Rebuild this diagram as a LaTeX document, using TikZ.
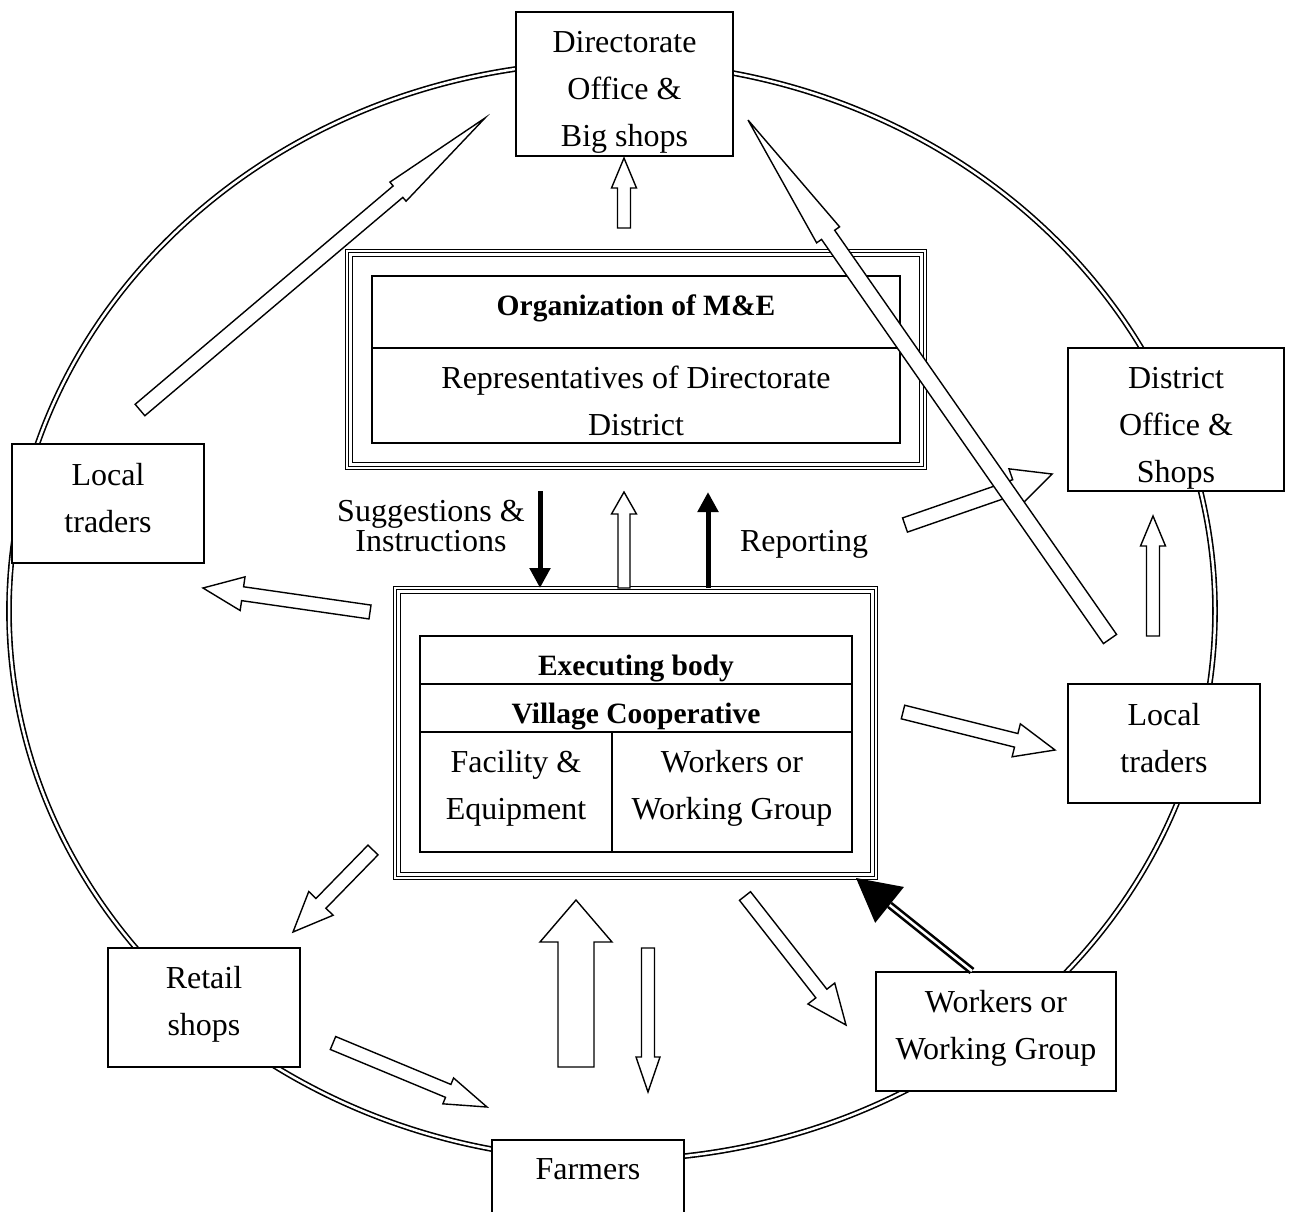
\documentclass[tikz,border=0pt]{standalone}
\usepackage{fontspec}
\setmainfont{Liberation Serif}
\usepackage{tikz}
\usetikzlibrary{arrows.meta,positioning,calc}
\newcommand{\bodyfont}{\fontsize{32}{47}\selectfont}
\newcommand{\headfont}{\fontsize{29.5}{40}\selectfont\bfseries}
\newcommand{\notefont}{\fontsize{32}{30}\selectfont}
% hollow block arrow: tail, tip, shaft half width, head half width, head length
\newcommand{\blockarrow}[5]{%
  \coordinate (ba-h) at ($(#2)!#5!(#1)$);
  \draw[hollow] ($(#1)!#3!90:(#2)$) -- ($(ba-h)!#3!90:(#2)$) -- ($(ba-h)!#4!90:(#2)$)
    -- (#2) -- ($(ba-h)!#4!-90:(#2)$) -- ($(ba-h)!#3!-90:(#2)$) -- ($(#1)!#3!-90:(#2)$) -- cycle;
}
\tikzset{
    every picture/.style={line join=miter},
    plainbox/.style={draw,fill=white,line width=1.5pt,inner sep=0pt,outer sep=0pt},
    boxtext/.style={font=\bodyfont,align=center,inner sep=0pt},
    headtext/.style={font=\headfont,align=center,inner sep=0pt},
    frame/.style={draw,fill=white,double,double distance=2pt,line width=1.3pt,inner sep=0pt},
    hollow/.style={draw,fill=white,line width=1.4pt},
    solidarrow/.style={line width=5pt,-{Triangle[length=20pt,width=20pt]}},
    ring/.style={double,double distance=2.5pt,line width=1.6pt},
    tripleline/.style={double,double distance=2.5pt,line width=2.6pt}
}
\begin{document}
\begin{tikzpicture}[x=1pt,y=-1pt]
  \useasboundingbox (0,0) rectangle (1292,1211);
  \draw[ring] (612,611) ellipse [x radius=603pt,y radius=549pt];

  \node[plainbox,minimum width=217pt,minimum height=144pt] (dirbox) at (624.5,84) {};
  \node[boxtext,below=19.5pt of dirbox.north] (dirtext) {Directorate\\Office \&\\Big shops};
  \node[plainbox,minimum width=192pt,minimum height=119pt] (ltleft) at (108,503.5) {};
  \node[boxtext,below=19pt of ltleft.north] (ltlefttext) {Local\\traders};
  \node[plainbox,minimum width=216pt,minimum height=143pt] (distbox) at (1176,419.5) {};
  \node[boxtext,below=19pt of distbox.north] (disttext) {District\\Office \&\\Shops};
  \node[plainbox,minimum width=192pt,minimum height=119pt] (ltright) at (1164,743.5) {};
  \node[boxtext,below=19pt of ltright.north] (ltrighttext) {Local\\traders};
  \node[plainbox,minimum width=192pt,minimum height=119pt] (retail) at (204,1007.5) {};
  \node[boxtext,below=18pt of retail.north] (retailtext) {Retail\\shops};
  \node[plainbox,minimum width=240pt,minimum height=119pt] (workers) at (996,1031.5) {};
  \node[boxtext,below=18.5pt of workers.north] (workerstext) {Workers or\\Working Group};
  \node[plainbox,anchor=north,minimum width=192pt,minimum height=100pt] (farmers) at (588,1140) {};
  \node[boxtext,below=18.5pt of farmers.north] (farmerstext) {Farmers};

  \node[frame,minimum width=578pt,minimum height=217pt] (orgframe) at (636,359.5) {};
  \draw[line width=1.3pt] ($(orgframe.north west)+(6,6)$) rectangle ($(orgframe.south east)+(-6,-6)$);
  \node[plainbox,minimum width=528pt,minimum height=72pt] (orgtitle) at (636,312) {};
  \node[headtext,below=18.5pt of orgtitle.north] (orgtitletext) {Organization of M\&E};
  \node[plainbox,minimum width=528pt,minimum height=95pt,below=0pt of orgtitle] (orgrep) {};
  \node[boxtext,below=17.5pt of orgrep.north] (orgreptext) {Representatives of Directorate\\District};

  \node[frame,minimum width=481pt,minimum height=290pt] (execframe) at (635.5,733) {};
  \draw[line width=1.3pt] ($(execframe.north west)+(6,6)$) rectangle ($(execframe.south east)+(-6,-6)$);
  \node[plainbox,minimum width=432pt,minimum height=48pt] (exechead) at (636,660) {};
  \node[headtext,below=18.5pt of exechead.north] (exectext) {Executing body};
  \node[plainbox,minimum width=432pt,minimum height=48pt,below=0pt of exechead] (village) {};
  \node[headtext,below=18.5pt of village.north] (villagetext) {Village Cooperative};
  \node[plainbox,minimum width=192pt,minimum height=120pt,anchor=north west] (facility) at (village.south west) {};
  \node[boxtext,below=18.5pt of facility.north] (facilitytext) {Facility \&\\Equipment};
  \node[plainbox,minimum width=240pt,minimum height=120pt,right=0pt of facility] (workcell) {};
  \node[boxtext,below=18.5pt of workcell.north] (workcelltext) {Workers or\\Working Group};

  \coordinate (dirA) at (624,228);   \coordinate (dirB) at (624,158);
  \coordinate (ltA) at (140,410);    \coordinate (ltB) at (485,118);
  \coordinate (ltrA) at (1110,639);  \coordinate (ltrB) at (748,120);
  \coordinate (distA) at (905,525);  \coordinate (distB) at (1052,474);
  \coordinate (upA) at (1153,636);   \coordinate (upB) at (1153,516);
  \coordinate (leftA) at (370,612);  \coordinate (leftB) at (203,588);
  \coordinate (rightA) at (903,712); \coordinate (rightB) at (1055,750);
  \coordinate (retA) at (373,850);   \coordinate (retB) at (293,932);
  \coordinate (farmA) at (333,1043); \coordinate (farmB) at (487,1107);
  \coordinate (bigA) at (576,1067);  \coordinate (bigB) at (576,900);
  \coordinate (downA) at (648,948);  \coordinate (downB) at (648,1092);
  \coordinate (wkA) at (745,896);    \coordinate (wkB) at (846,1025);
  \coordinate (midA) at (624,588);   \coordinate (midB) at (624,492);
  \coordinate (sugA) at (540,491);   \coordinate (sugB) at (540,588);
  \coordinate (repA) at (708,588);   \coordinate (repB) at (708,492);
  \coordinate (wtail) at (972,971);  \coordinate (wtip) at (856,878);

  \blockarrow{dirA}{dirB}{6.5pt}{12.5pt}{30pt}
  \blockarrow{ltA}{ltB}{7.5pt}{12.5pt}{114pt}
  \blockarrow{distA}{distB}{7.5pt}{19pt}{39pt}
  \blockarrow{ltrA}{ltrB}{8pt}{14pt}{140pt}
  \blockarrow{upA}{upB}{6.5pt}{12.5pt}{30pt}
  \blockarrow{leftA}{leftB}{7pt}{17pt}{40pt}
  \blockarrow{rightA}{rightB}{7pt}{17pt}{40pt}
  \blockarrow{retA}{retB}{7pt}{17pt}{40pt}
  \blockarrow{farmA}{farmB}{7pt}{14pt}{42pt}
  \blockarrow{bigA}{bigB}{18pt}{36pt}{42pt}
  \blockarrow{downA}{downB}{6.5pt}{12pt}{35pt}
  \blockarrow{wkA}{wkB}{7pt}{17pt}{40pt}
  \blockarrow{midA}{midB}{6pt}{12.5pt}{22pt}

  \draw[solidarrow] (sugA) -- (sugB);
  \draw[solidarrow] (repA) -- (repB);
  \coordinate (whb) at ($(wtip)!43pt!(wtail)$);
  \draw[tripleline] (wtail) -- (whb);
  \fill (wtip) -- ($(whb)!23pt!90:(wtip)$) -- ($(whb)!23pt!-90:(wtip)$) -- cycle;

  \node[font=\notefont,align=center] (sugtext) at (431,526) {Suggestions \&\\Instructions};
  \node[font=\bodyfont] (reptext) at (804,544) {Reporting};
\end{tikzpicture}
\end{document}
